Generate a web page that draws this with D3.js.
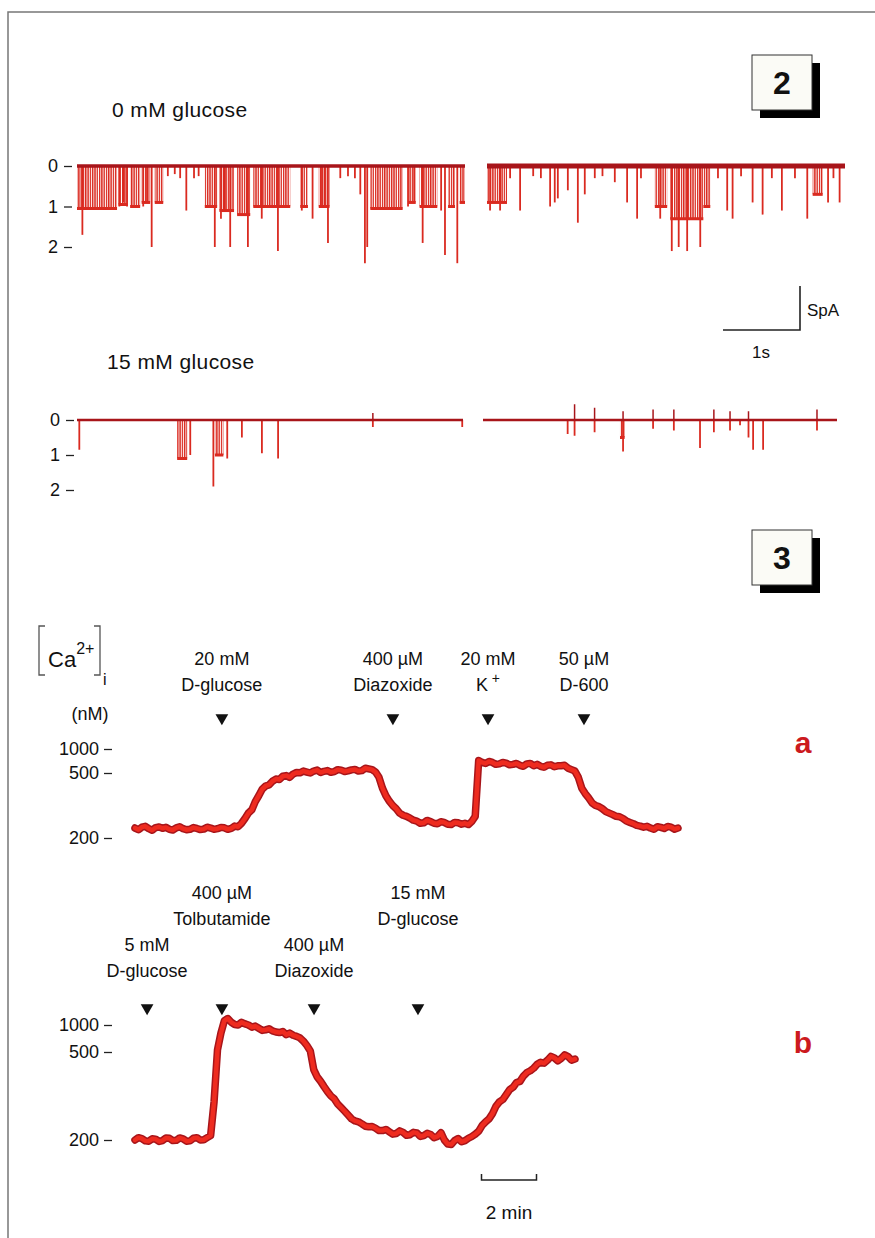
<!DOCTYPE html>
<html>
<head>
<meta charset="utf-8">
<script src="https://cdn.jsdelivr.net/npm/d3@7"></script>
<style>
  body { margin: 0; background: #fff; }
  text { font-family: "Liberation Sans", Arial, sans-serif; fill: #111; }
</style>
</head>
<body>
<script>
// Figure 2 (single channel records) + Figure 3 ([Ca2+]i traces)

const width = 875, height = 1238;

// ---- Figure 2 data: channel openings, time in s, level in pA units (down = open) ----
const channelTicks = [0, 1, 2];

// [start, end, level] dense bursts of openings
const bursts0L = [
  [0.00, 0.52, 1.05], [0.54, 0.66, 0.95], [0.69, 0.82, 1.0], [0.84, 0.95, 0.9],
  [1.01, 1.12, 0.9], [1.66, 1.82, 1.0], [1.85, 2.04, 1.1], [2.08, 2.25, 1.2],
  [2.29, 2.77, 1.0], [2.90, 3.00, 1.0], [3.14, 3.28, 1.0], [3.81, 4.23, 1.05],
  [4.30, 4.40, 0.9], [4.45, 4.68, 1.0], [4.82, 4.91, 1.0], [4.97, 5.04, 0.9]
];
// [time, level] single openings
const spikes0L = [
  [0.07, 1.7], [0.55, 1.0], [0.60, 0.9], [0.65, 1.0], [0.86, 1.0], [0.91, 0.9], [0.97, 2.0],
  [1.18, 0.25], [1.27, 0.2], [1.34, 0.3], [1.42, 1.1], [1.52, 0.3], [1.58, 0.25],
  [1.79, 2.0], [1.87, 1.3], [1.92, 1.1], [1.99, 2.0], [2.22, 2.0], [2.40, 1.3], [2.61, 2.1],
  [2.92, 1.1], [3.06, 1.3], [3.17, 1.0], [3.22, 1.0], [3.26, 1.9], [3.42, 0.3], [3.52, 0.25],
  [3.61, 0.3], [3.68, 0.7], [3.74, 2.4], [3.77, 2.0], [4.30, 1.0], [4.38, 0.9], [4.49, 1.9],
  [4.73, 1.1], [4.78, 2.2], [4.94, 2.4]
];
const bursts0R = [
  [0.00, 0.26, 0.9], [2.18, 2.34, 1.0], [2.38, 2.81, 1.3], [2.81, 2.90, 1.0], [4.23, 4.36, 0.7]
];
const spikes0R = [
  [0.04, 1.1], [0.17, 1.1], [0.30, 0.3], [0.43, 1.1], [0.60, 0.25], [0.70, 0.3], [0.82, 1.0],
  [0.88, 0.9], [0.92, 0.8], [1.05, 0.6], [1.18, 1.4], [1.27, 0.7], [1.40, 0.3], [1.50, 0.25],
  [1.66, 0.4], [1.82, 0.9], [1.95, 1.3], [2.00, 0.3], [2.25, 1.3], [2.40, 2.1], [2.49, 2.0],
  [2.60, 2.1], [2.77, 2.0], [3.00, 0.3], [3.12, 1.1], [3.19, 1.3], [3.30, 0.25], [3.45, 0.9],
  [3.58, 1.2], [3.70, 0.3], [3.83, 1.1], [4.00, 0.3], [4.16, 1.3], [4.43, 0.9], [4.50, 0.3],
  [4.58, 0.9]
];

const bursts15L = [[1.30, 1.43, 1.1], [1.79, 1.90, 1.0]];
const spikes15L = [
  [0.03, 0.85], [1.47, 1.0], [1.77, 1.9], [1.95, 1.1], [2.14, 0.5], [2.40, 0.95],
  [2.61, 1.1], [3.84, 0.2], [5.00, 0.2]
];
const ups15L = [[3.84, 0.2]];
const bursts15R = [[1.78, 1.84, 0.5]];
const spikes15R = [
  [1.10, 0.4], [1.19, 0.45], [1.45, 0.35], [1.82, 0.9], [2.21, 0.25], [2.48, 0.3], [2.82, 0.8],
  [3.00, 0.35], [3.21, 0.3], [3.34, 0.15], [3.45, 0.5], [3.51, 0.85], [3.64, 0.85], [4.34, 0.3]
];
const ups15R = [
  [1.19, 0.45], [1.45, 0.35], [1.82, 0.25], [2.21, 0.3], [2.48, 0.3], [3.00, 0.3],
  [3.21, 0.25], [3.45, 0.25], [4.34, 0.3]
];

// ---- Figure 3 data: [Ca2+]i in nM, one sample every 0.125 min ----
const caStep = 0.125;
const caTicks = [200, 500, 1000];
const caA = [
  246, 238, 250, 254, 243, 236, 248, 251, 245, 249, 240, 237, 247, 252, 243, 238,
  240, 248, 244, 239, 241, 250, 246, 240, 243, 249, 247, 240, 244, 255, 252, 268,
  290, 315, 330, 368, 395, 425, 440, 445, 462, 472, 470, 485, 488, 480, 495, 510,
  505, 540, 520, 500, 540, 560, 510, 535, 550, 515, 530, 570, 560, 530, 545, 565,
  575, 540, 550, 600, 585, 570, 520, 480, 430, 395, 370, 350, 335, 315, 305, 300,
  292, 282, 278, 268, 270, 281, 276, 268, 266, 275, 272, 263, 262, 272, 270, 264,
  268, 262, 276, 300, 760, 720, 700, 740, 720, 680, 690, 720, 705, 670, 680, 700,
  660, 640, 690, 700, 650, 680, 640, 620, 660, 670, 630, 650, 650, 660, 600, 570,
  540, 480, 430, 405, 385, 362, 350, 345, 335, 322, 315, 308, 300, 298, 290, 278,
  272, 266, 258, 255, 250, 254, 246, 240, 252, 249, 244, 253, 250, 241, 246
];
const caB = [
  200, 208, 205, 197, 196, 204, 203, 195, 198, 207, 206, 198, 199, 207, 204, 196,
  197, 206, 208, 200, 201, 208, 215, 330, 540, 850, 1080, 1120, 1050, 1010, 1000, 1050,
  1020, 1000, 960, 980, 940, 900, 910, 930, 890, 870, 860, 880, 820, 850, 810, 790,
  760, 700, 620, 520, 440, 415, 400, 382, 365, 350, 340, 322, 310, 298, 285, 272,
  265, 262, 255, 247, 245, 246, 240, 232, 232, 236, 228, 220, 222, 231, 226, 216,
  218, 226, 224, 212, 215, 223, 219, 208, 212, 225, 200, 186, 185, 198, 205, 194,
  198, 206, 212, 220, 230, 250, 262, 272, 290, 315, 330, 338, 355, 372, 380, 396,
  400, 418, 430, 436, 445, 458, 465, 462, 472, 485, 480, 470, 478, 490, 484, 472, 476
];

// agent additions (time in min) and their labels
const markTimesA = [3.16, 9.38, 12.84, 16.33];
const markLabelsA = [["20 mM", "D-glucose"], ["400 µM", "Diazoxide"], ["20 mM", "K+"], ["50 µM", "D-600"]];
const markTimesB = [0.44, 3.16, 6.51, 10.29];
const markLabelsB = [["5 mM", "D-glucose"], ["400 µM", "Tolbutamide"], ["400 µM", "Diazoxide"], ["15 mM", "D-glucose"]];

const red = "#da2a20", darkRed = "#a8151a";

const svg = d3.select("body").append("svg")
  .attr("width", width).attr("height", height);

svg.append("rect").attr("width", width).attr("height", height).attr("fill", "#fff");

// page frame (top + left edges)
svg.append("path")
  .attr("d", "M8,1238V12H875")
  .attr("fill", "none").attr("stroke", "#777").attr("stroke-width", 1.5);

const defs = svg.append("defs");
defs.append("pattern").attr("id", "flicker")
  .attr("patternUnits", "userSpaceOnUse").attr("width", 2.3).attr("height", 10)
  .append("rect").attr("width", 1.4).attr("height", 10).attr("fill", red);

// numbered boxes
function numberBox(x, y, label) {
  const g = svg.append("g");
  g.append("rect").attr("x", x + 8).attr("y", y + 8).attr("width", 60).attr("height", 55).attr("fill", "#000");
  g.append("rect").attr("x", x).attr("y", y).attr("width", 60).attr("height", 55)
    .attr("fill", "#fbfbf6").attr("stroke", "#333").attr("stroke-width", 1);
  g.append("text").attr("x", x + 30).attr("y", y + 39).attr("text-anchor", "middle")
    .style("font-size", "32px").style("font-weight", "bold").text(label);
}
numberBox(752, 55, "2");
numberBox(752, 530, "3");

// ---- single channel records ----
function channelAxis(y, x0) {
  const ax = svg.append("g").attr("transform", `translate(${x0},0)`)
    .call(d3.axisLeft(y).tickValues(channelTicks).tickSize(8).tickPadding(6).tickFormat(d3.format("d")));
  ax.select(".domain").remove();
  ax.selectAll("line").attr("stroke", "#222").attr("stroke-width", 1.3);
  ax.selectAll("text").style("font-size", "18px").style("font-family", "Liberation Sans, Arial, sans-serif").attr("fill", "#111");
}

function channelSegment(x, y, bursts, spikes, ups, baseW) {
  const g = svg.append("g");
  const [t0, t1] = x.domain();
  g.selectAll("rect.burst").data(bursts).join("rect")
    .attr("x", d => x(d[0])).attr("width", d => x(d[1]) - x(d[0]))
    .attr("y", y(0)).attr("height", d => y(d[2]) - y(0))
    .attr("fill", "url(#flicker)");
  g.selectAll("line.blev").data(bursts).join("line")
    .attr("x1", d => x(d[0])).attr("x2", d => x(d[1]))
    .attr("y1", d => y(d[2])).attr("y2", d => y(d[2]))
    .attr("stroke", red).attr("stroke-width", 3);
  g.selectAll("line.sp").data(spikes).join("line")
    .attr("x1", d => x(d[0])).attr("x2", d => x(d[0]))
    .attr("y1", y(0)).attr("y2", d => y(d[1]))
    .attr("stroke", red).attr("stroke-width", 1.8);
  g.selectAll("line.up").data(ups).join("line")
    .attr("x1", d => x(d[0])).attr("x2", d => x(d[0]))
    .attr("y1", y(0)).attr("y2", d => y(-d[1]))
    .attr("stroke", darkRed).attr("stroke-width", 1.5);
  g.append("line")
    .attr("x1", x(t0)).attr("x2", x(t1)).attr("y1", y(0)).attr("y2", y(0))
    .attr("stroke", darkRed).attr("stroke-width", baseW);
}

// 0 mM glucose
svg.append("text").attr("x", 112).attr("y", 117).style("font-size", "21px").style("letter-spacing", "0.4px").text("0 mM glucose");
const y0 = d3.scaleLinear().domain([0, 2]).range([166, 247]);
channelAxis(y0, 72);
channelSegment(d3.scaleLinear().domain([0, 5.04]).range([77, 465]), y0, bursts0L, spikes0L, [], 3.5);
channelSegment(d3.scaleLinear().domain([0, 4.65]).range([487, 845]), y0, bursts0R, spikes0R, [], 5);

// scale bar 1 s / 5 pA
svg.append("path").attr("d", "M723,330H800V286")
  .attr("fill", "none").attr("stroke", "#222").attr("stroke-width", 1.6);
svg.append("text").attr("x", 807).attr("y", 316).style("font-size", "17px").text("SpA");
svg.append("text").attr("x", 761).attr("y", 358).attr("text-anchor", "middle").style("font-size", "17px").text("1s");

// 15 mM glucose
svg.append("text").attr("x", 107).attr("y", 369).style("font-size", "21px").style("letter-spacing", "0.4px").text("15 mM glucose");
const y15 = d3.scaleLinear().domain([0, 2]).range([420, 490]);
channelAxis(y15, 74);
channelSegment(d3.scaleLinear().domain([0, 5.01]).range([77, 463]), y15, bursts15L, spikes15L, ups15L, 2.6);
channelSegment(d3.scaleLinear().domain([0, 4.6]).range([483, 837]), y15, bursts15R, spikes15R, ups15R, 2.6);

// ---- [Ca2+]i panels ----
const caLabel = svg.append("g");
caLabel.append("path").attr("d", "M45,626H39V675H45").attr("fill", "none").attr("stroke", "#555").attr("stroke-width", 1.3);
caLabel.append("path").attr("d", "M94,626H100V675H94").attr("fill", "none").attr("stroke", "#555").attr("stroke-width", 1.3);
const caText = caLabel.append("text").attr("x", 48).attr("y", 667).style("font-size", "22px");
caText.append("tspan").text("Ca");
caText.append("tspan").attr("dy", -13).style("font-size", "16px").text("2+");
caLabel.append("text").attr("x", 103).attr("y", 685).style("font-size", "16px").text("i");
svg.append("text").attr("x", 90).attr("y", 720).attr("text-anchor", "middle").style("font-size", "18px").text("(nM)");

function caPanel(values, xRange, yRange, times, labels, labelRows, arrowY, tag, tagY) {
  const x = d3.scaleLinear().domain([0, (values.length - 1) * caStep]).range(xRange);
  const y = d3.scaleLinear().domain(caTicks).range(yRange);

  const ax = svg.append("g").attr("transform", "translate(112,0)")
    .call(d3.axisLeft(y).tickValues(caTicks).tickSize(8).tickPadding(5).tickFormat(d3.format("d")));
  ax.select(".domain").remove();
  ax.selectAll("line").attr("stroke", "#222").attr("stroke-width", 1.3);
  ax.selectAll("text").style("font-size", "18px").style("font-family", "Liberation Sans, Arial, sans-serif").attr("fill", "#111");

  const line = d3.line().x((d, i) => x(i * caStep)).y(d => y(d));
  svg.append("path").datum(values).attr("d", line)
    .attr("fill", "none").attr("stroke", darkRed).attr("stroke-width", 7.5)
    .attr("stroke-linejoin", "round").attr("stroke-linecap", "round");
  svg.append("path").datum(values).attr("d", line)
    .attr("fill", "none").attr("stroke", "#ee2b1f").attr("stroke-width", 4.5)
    .attr("stroke-linejoin", "round").attr("stroke-linecap", "round");

  const tri = d3.symbol().type(d3.symbolTriangle).size(70);
  times.forEach((t, i) => {
    svg.append("path").attr("d", tri).attr("fill", "#111")
      .attr("transform", `translate(${x(t)},${arrowY}) rotate(180)`);
    const ly = labelRows[i];
    labels[i].forEach((s, k) => {
      const tx = svg.append("text").attr("x", x(t)).attr("y", ly + k * 26)
        .attr("text-anchor", "middle").style("font-size", "18px");
      if (s === "K+") {
        tx.append("tspan").text("K");
        tx.append("tspan").attr("dy", -8).style("font-size", "14px").text(" +");
      } else {
        tx.text(s);
      }
    });
  });

  svg.append("text").attr("x", 803).attr("y", tagY).attr("text-anchor", "middle")
    .style("font-size", "30px").style("font-weight", "bold")
    .style("fill", "#cc1a1e").text(tag);
  return x;
}

caPanel(caA, [135, 678], [838, 773, 749], markTimesA, markLabelsA,
  [665, 665, 665, 665], 718, "a", 753);
const xB = caPanel(caB, [135, 575], [1140, 1052, 1025], markTimesB, markLabelsB,
  [951, 899, 951, 899], 1008, "b", 1053);

// 2 min scale bar
svg.append("path").attr("d", `M${xB(12.6)},1174V1180H${xB(14.6)}V1174`)
  .attr("fill", "none").attr("stroke", "#222").attr("stroke-width", 1.5);
svg.append("text").attr("x", (xB(12.6) + xB(14.6)) / 2).attr("y", 1219)
  .attr("text-anchor", "middle").style("font-size", "19px").text("2 min");
</script>
</body>
</html>
